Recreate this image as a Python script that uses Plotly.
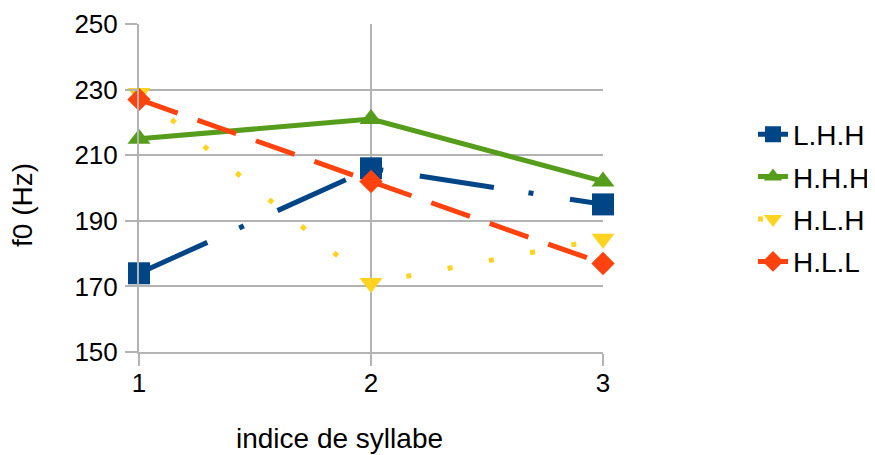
import plotly.graph_objects as go

syllable_index = [1, 2, 3]
series_names = ["L.H.H", "H.H.H", "H.L.H", "H.L.L"]
f0_LHH = [174, 206, 195]
f0_HHH = [215, 221, 202]
f0_HLH = [229, 171, 184.5]
f0_HLL = [227, 202, 177]
y_ticks = [150, 170, 190, 210, 230, 250]
x_ticks = [1, 2, 3]

series_values = [f0_LHH, f0_HHH, f0_HLH, f0_HLL]
colors = ["#004586", "#579d1c", "#ffd320", "#ff420e"]
symbols = ["square", "triangle-up", "triangle-down", "diamond"]
sizes = [22, 20, 20, 18]
dashes = ["75px,35px,5px,37px", "solid", "5px,37px", "41px,21px"]

FONT = "Liberation Sans, Arial, sans-serif"
GRID = "#b3b3b3"

# page body has an 8px default margin; figure sized to fit the window
W, H = 867, 447
L, T, PW, PH = 131, 16, 464, 328

fig = go.Figure()
for name, vals, c, sym, sz, dash in zip(series_names, series_values, colors, symbols, sizes, dashes):
    fig.add_trace(go.Scatter(
        x=syllable_index, y=vals, name=name, mode="lines+markers",
        legendgroup=name,
        line=dict(color=c, width=5, dash=dash),
        marker=dict(color=c, symbol=sym, size=sz, line=dict(width=0)),
        cliponaxis=False,
    ))

fig.update_layout(
    width=W, height=H,
    margin=dict(l=L, r=W - L - PW, t=T, b=H - T - PH, autoexpand=False),
    paper_bgcolor="white", plot_bgcolor="white",
    font=dict(family=FONT, size=26, color="#000000"),
    showlegend=True,
    legend=dict(
        xref="container", yref="container",
        x=745 / W, y=1 - 101.5 / H, xanchor="left", yanchor="top",
        font=dict(family=FONT, size=28, color="#000000"),
        bgcolor="rgba(0,0,0,0)", borderwidth=0,
        tracegroupgap=3,
    ),
    xaxis=dict(
        range=[1, 3], tickmode="array", tickvals=x_ticks,
        ticktext=[str(v) for v in x_ticks],
        showgrid=True, gridcolor=GRID, gridwidth=2,
        showline=True, linecolor=GRID, linewidth=2,
        ticks="outside", ticklen=12, tickwidth=2, tickcolor=GRID,
        ticklabelstandoff=-5,
        tickfont=dict(family=FONT, size=26, color="#000000"),
        zeroline=False,
    ),
    yaxis=dict(
        range=[150, 250], tickmode="array", tickvals=y_ticks,
        ticktext=[str(v) for v in y_ticks],
        showgrid=True, gridcolor=GRID, gridwidth=2,
        showline=True, linecolor=GRID, linewidth=2,
        ticks="outside", ticklen=12, tickwidth=2, tickcolor=GRID,
        ticklabelstandoff=2,
        tickfont=dict(family=FONT, size=26, color="#000000"),
        zeroline=False,
    ),
    annotations=[
        dict(text="indice de syllabe", xref="paper", yref="paper",
             x=(339 - 8 - L) / PW, y=-(439 - 8 - (T + PH)) / PH, xanchor="center", yanchor="middle",
             showarrow=False, font=dict(family=FONT, size=28, color="#000000")),
        dict(text="f0 (Hz)", xref="paper", yref="paper",
             x=-(L - (22 - 8)) / PW, y=1 - (205 - 8 - T) / PH, xanchor="center", yanchor="middle",
             textangle=-90, showarrow=False, font=dict(family=FONT, size=28, color="#000000")),
    ],
)

fig.write_html("out.html")
